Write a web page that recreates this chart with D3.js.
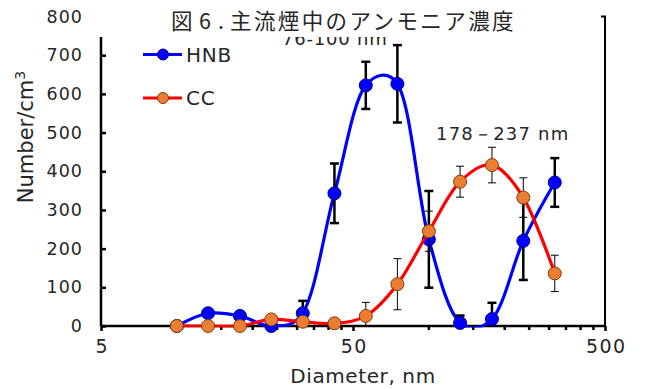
<!DOCTYPE html>
<html>
<head>
<meta charset="utf-8">
<script src="https://cdn.jsdelivr.net/npm/d3@7"></script>
<style>
  body { margin: 0; background: #fff; }
  svg { display: block; }
  text { fill: #262626; }
</style>
</head>
<body>
<div id="chart"></div>
<script>
// Particle diameters, nm (bin midpoints)
const diameters = [10, 13.3, 17.8, 23.7, 31.6, 42.2, 56.2, 75, 100, 133, 178, 237, 316];

// Number concentrations, /cm3
const hnbValues = [0, 33, 26, 0, 33, 343, 622, 626, 224, 8, 18, 220, 371];
const hnbErrors = [0, 0, 0, 0, 32, 77, 61, 100, 125, 19, 42, 101, 63];
const ccValues = [0, 0, 0, 17, 11, 7, 26, 108, 245, 373, 416, 332, 136];
const ccErrors = [0, 0, 0, 0, 0, 0, 35, 66, 52, 40, 46, 51, 47];

const yTicks = [0, 100, 200, 300, 400, 500, 600, 700, 800];
const xTicks = [5, 50, 500];
const xMinorTicks = [10, 15, 20, 25, 30, 35, 40, 45, 100, 150, 200, 250, 300, 350, 400, 450];

const titleHead = ['図', '6', '.'];
const titleBody = '主流煙中のアンモニア濃度';

const width = 645;
const height = 389;
const plotLeft = 101, plotRight = 605, plotTop = 16.5, plotBottom = 326;

const svg = d3.select('#chart').append('svg')
  .attr('width', width)
  .attr('height', height);

const x = d3.scaleLog().domain([5, 500]).range([plotLeft, plotRight]);
const y = d3.scaleLinear().domain([0, 800]).range([plotBottom, plotTop]);

const font = "'DejaVu Sans', sans-serif";
const cjk = "'Noto Sans CJK JP', sans-serif";

svg.append('defs').append('clipPath').attr('id', 'plot')
  .append('rect')
  .attr('x', plotLeft).attr('y', plotTop)
  .attr('width', plotRight - plotLeft).attr('height', plotBottom - plotTop + 1.5);

/* Axes
=========================================================================*/
const yAxis = svg.append('g')
  .attr('transform', `translate(${plotLeft},0)`)
  .call(d3.axisLeft(y).tickValues(yTicks).tickSize(-5).tickPadding(18));
yAxis.select('.domain').attr('stroke', '#000').attr('stroke-width', 2.5).attr('d', `M0,${plotBottom}V${plotTop}`);
yAxis.selectAll('.tick line').attr('stroke', '#000').attr('stroke-width', 2.5);
yAxis.selectAll('text')
  .style('font-family', font).style('font-size', '17.5px').style('letter-spacing', '1px')
  .attr('fill', '#262626');

const xAxis = svg.append('g')
  .attr('transform', `translate(0,${plotBottom})`)
  .call(d3.axisBottom(x).tickValues(xTicks).tickSize(5).tickPadding(9).tickFormat(d3.format('d')));
xAxis.select('.domain').attr('stroke', '#000').attr('stroke-width', 2.5).attr('d', `M${plotLeft},0H${plotRight}`);
xAxis.selectAll('.tick line').attr('stroke', '#000').attr('stroke-width', 2.5);
xAxis.selectAll('text')
  .style('font-family', font).style('font-size', '19px').style('letter-spacing', '1.5px')
  .attr('dx', '0.75px')
  .attr('fill', '#262626');

svg.append('g')
  .attr('transform', `translate(0,${plotBottom})`)
  .selectAll('line')
  .data(xMinorTicks)
  .enter()
  .append('line')
  .attr('x1', (d) => x(d)).attr('x2', (d) => x(d))
  .attr('y1', 0).attr('y2', 4)
  .attr('stroke', '#000').attr('stroke-width', 2.5);

// right frame
svg.append('path')
  .attr('d', `M${plotRight - 4},${plotTop}H${plotRight}V${plotBottom}`)
  .attr('fill', 'none').attr('stroke', '#000').attr('stroke-width', 2);

/* Series
=========================================================================*/
const hnb = diameters.map((d, i) => ({ d, v: hnbValues[i], e: hnbErrors[i] }));
const cc = diameters.map((d, i) => ({ d, v: ccValues[i], e: ccErrors[i] }));

const line = d3.line()
  .x((p) => x(p.d))
  .y((p) => y(p.v))
  .curve(d3.curveCatmullRom.alpha(0.25));

function drawSeries(data, opts) {
  const g = svg.append('g');
  g.append('path')
    .datum(data)
    .attr('clip-path', 'url(#plot)')
    .attr('fill', 'none')
    .attr('stroke', opts.line)
    .attr('stroke-width', 3.2)
    .attr('d', line);

  const bars = g.selectAll('.err')
    .data(data.filter((p) => p.e > 0))
    .enter()
    .append('g');
  bars.append('line')
    .attr('x1', (p) => x(p.d)).attr('x2', (p) => x(p.d))
    .attr('y1', (p) => y(p.v + p.e)).attr('y2', (p) => y(Math.max(0, p.v - p.e)))
    .attr('stroke', '#000').attr('stroke-width', opts.errWidth);
  [1, -1].forEach((s) => {
    bars.filter((p) => s > 0 || p.v - p.e > 0).append('line')
      .attr('x1', (p) => x(p.d) - opts.cap).attr('x2', (p) => x(p.d) + opts.cap)
      .attr('y1', (p) => y(p.v + s * p.e)).attr('y2', (p) => y(p.v + s * p.e))
      .attr('stroke', '#000').attr('stroke-width', opts.errWidth);
  });

  g.selectAll('circle')
    .data(data)
    .enter()
    .append('circle')
    .attr('cx', (p) => x(p.d))
    .attr('cy', (p) => y(p.v))
    .attr('r', 6.5)
    .attr('fill', opts.fill)
    .attr('stroke', opts.stroke)
    .attr('stroke-width', 1);
}

drawSeries(hnb, { line: '#0000ff', fill: '#0000ff', stroke: '#00008b', errWidth: 2.5, cap: 4.5 });
drawSeries(cc, { line: '#ff0000', fill: '#ed7d31', stroke: '#7a3e12', errWidth: 1, cap: 4 });

/* Labels
=========================================================================*/
svg.append('text')
  .attr('x', 282).attr('y', 45)
  .style('font-family', font).style('font-size', '18px').style('letter-spacing', '0.8px')
  .text('76-100 nm');

svg.append('text')
  .attr('x', 436).attr('y', 140)
  .style('font-family', font).style('font-size', '18px').style('letter-spacing', '1.2px')
  .text('178－237 nm');

// title box covers the top of the plot
svg.append('rect')
  .attr('x', 88).attr('y', 0)
  .attr('width', 472).attr('height', 37)
  .attr('fill', '#fff');

const title = svg.append('text')
  .attr('y', 29)
  .style('font-family', cjk).style('font-size', '21.5px')
  .attr('fill', '#333');
[171, 199, 218].forEach((px, i) => title.append('tspan').attr('x', px).text(titleHead[i]));
title.append('tspan').attr('x', 230).style('letter-spacing', '2.4px').text(titleBody);

const yTitle = svg.append('text')
  .attr('transform', 'translate(33,137) rotate(-90)')
  .attr('text-anchor', 'middle')
  .style('font-family', font).style('font-size', '21px');
yTitle.append('tspan').text('Number/cm');
yTitle.append('tspan').attr('dy', -8).style('font-size', '14px').text('3');

svg.append('text')
  .attr('x', 363).attr('y', 383)
  .attr('text-anchor', 'middle')
  .style('font-family', font).style('font-size', '20px').style('letter-spacing', '0.6px')
  .text('Diameter, nm');

/* Legend
=========================================================================*/
const legendItems = [
  { name: 'HNB', line: '#0000ff', fill: '#0000ff', stroke: '#00008b', y: 54.5 },
  { name: 'CC', line: '#ff0000', fill: '#ed7d31', stroke: '#7a3e12', y: 98 },
];
const legend = svg.append('g').selectAll('g').data(legendItems).enter().append('g')
  .attr('transform', (d) => `translate(143,${d.y})`);
legend.append('line')
  .attr('x1', 0).attr('x2', 39)
  .attr('stroke', (d) => d.line).attr('stroke-width', 3.2);
legend.append('circle')
  .attr('cx', 20).attr('r', 5.5)
  .attr('fill', (d) => d.fill).attr('stroke', (d) => d.stroke);
legend.append('text')
  .attr('x', 43).attr('dy', '0.36em')
  .style('font-family', font).style('font-size', '20px').style('letter-spacing', '0.8px')
  .text((d) => d.name);
</script>
</body>
</html>
